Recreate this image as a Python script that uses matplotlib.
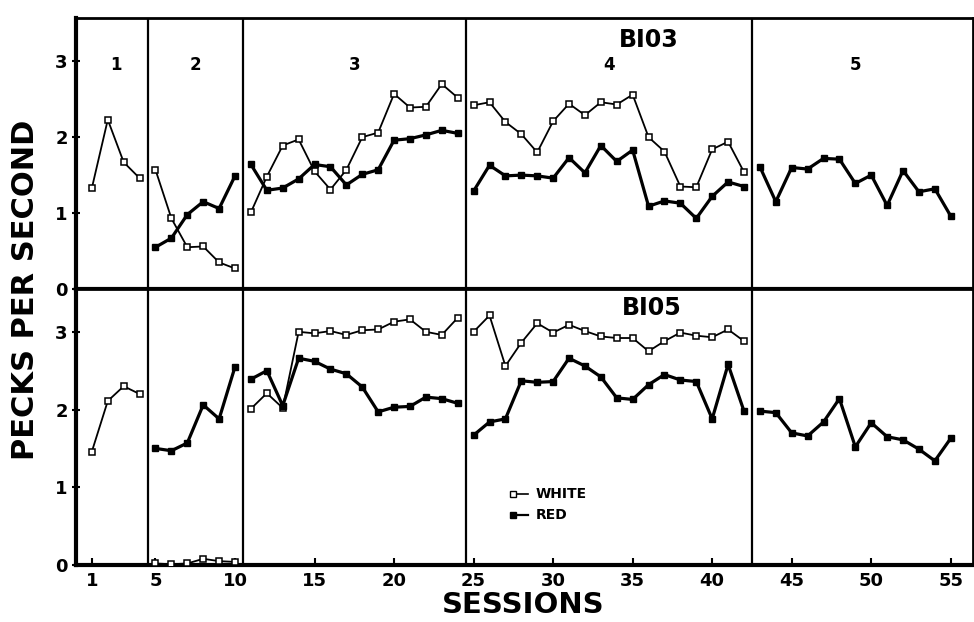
import numpy as np
import matplotlib
matplotlib.use("Agg")
import matplotlib.pyplot as plt

nan = np.nan

# sessions and phase limits
sessions = np.arange(1, 56)
phase_edges = [0.5, 4.5, 10.5, 24.5, 42.5, 55.5]
phase_names = ["1", "2", "3", "4", "5"]
xtick_vals = [1, 5, 10, 15, 20, 25, 30, 35, 40, 45, 50, 55]

# bird BI03 (top)
b103_white = ([1.33, 2.23, 1.67, 1.46]
              + [1.57, 0.93, 0.55, 0.56, 0.35, 0.27]
              + [1.01, 1.48, 1.89, 1.97, 1.55, 1.31, 1.57, 2.00, 2.06, 2.57, 2.39, 2.40, 2.70, 2.52]
              + [2.42, 2.46, 2.20, 2.04, 1.80, 2.21, 2.44, 2.29, 2.46, 2.43, 2.56, 2.00, 1.81, 1.35, 1.34, 1.84, 1.94, 1.54]
              + [nan] * 13)
b103_red = ([nan] * 4
            + [0.55, 0.67, 0.98, 1.15, 1.06, 1.49]
            + [1.64, 1.30, 1.33, 1.45, 1.64, 1.61, 1.37, 1.51, 1.57, 1.96, 1.98, 2.03, 2.09, 2.05]
            + [1.29, 1.63, 1.49, 1.50, 1.49, 1.46, 1.73, 1.53, 1.89, 1.68, 1.83, 1.09, 1.16, 1.13, 0.93, 1.22, 1.41, 1.35]
            + [1.61, 1.15, 1.60, 1.58, 1.72, 1.71, 1.39, 1.50, 1.10, 1.56, 1.28, 1.32, 0.96])

# bird BI05 (bottom)
b105_white = ([1.46, 2.11, 2.30, 2.20]
              + [0.02, 0.01, 0.02, 0.08, 0.05, 0.04]
              + [2.01, 2.21, 2.02, 3.00, 2.98, 3.01, 2.96, 3.02, 3.03, 3.13, 3.16, 3.00, 2.96, 3.18]
              + [3.00, 3.21, 2.56, 2.86, 3.11, 2.99, 3.09, 3.01, 2.94, 2.92, 2.92, 2.75, 2.88, 2.99, 2.95, 2.93, 3.03, 2.88]
              + [nan] * 13)
b105_red = ([nan] * 4
            + [1.50, 1.47, 1.57, 2.06, 1.88, 2.55]
            + [2.39, 2.50, 2.05, 2.66, 2.62, 2.52, 2.46, 2.29, 1.97, 2.03, 2.04, 2.16, 2.14, 2.08]
            + [1.67, 1.84, 1.88, 2.37, 2.35, 2.36, 2.66, 2.56, 2.42, 2.15, 2.13, 2.32, 2.45, 2.38, 2.36, 1.88, 2.58, 1.98]
            + [1.98, 1.96, 1.70, 1.66, 1.84, 2.14, 1.52, 1.83, 1.65, 1.61, 1.49, 1.34, 1.63])

plt.rcParams['font.family'] = ['DejaVu Sans']
plt.rcParams['font.weight'] = 'bold'

fig = plt.figure(figsize=(9.74, 6.22), dpi=100)
ax_top = fig.add_axes([0.078, 0.5354, 0.921, 0.4357])
ax_bot = fig.add_axes([0.078, 0.0916, 0.921, 0.4437])


def draw_phases(ax, white, red):
    white = np.array(white, dtype=float)
    red = np.array(red, dtype=float)
    for lo, hi in zip(phase_edges[:-1], phase_edges[1:]):
        m = (sessions > lo) & (sessions < hi)
        ax.plot(sessions[m], white[m], color='black', lw=1.3, marker='s', ms=5,
                mfc='white', mec='black', mew=1.1, zorder=3)
        ax.plot(sessions[m], red[m], color='black', lw=2.3, marker='s', ms=5,
                mfc='black', mec='black', zorder=4)
    for e in phase_edges[1:-1]:
        ax.axvline(e, color='black', lw=1.6, zorder=2)


draw_phases(ax_top, b103_white, b103_red)
draw_phases(ax_bot, b105_white, b105_red)

for ax, ytop in ((ax_top, 3.57), (ax_bot, 3.55)):
    ax.set_xlim(0, 56.4)
    ax.set_ylim(0, ytop)
    ax.spines['left'].set_linewidth(3)
    ax.spines['bottom'].set_linewidth(3)
    ax.spines['top'].set_linewidth(2)
    ax.spines['right'].set_linewidth(2)
    ax.set_yticks([0, 1, 2, 3])
    ax.tick_params(axis='y', direction='inout', length=6, width=1.5, pad=3,
                   labelsize=13)

ax_top.set_xticks([])
ax_bot.set_xticks(xtick_vals)
ax_bot.tick_params(axis='x', direction='in', length=5, width=1.5, pad=5,
                   labelsize=13)

# phase numbers
for lo, hi, name in zip(phase_edges[:-1], phase_edges[1:], phase_names):
    mid = (max(lo, 0) + min(hi, 56.4)) / 2
    ax_top.text(mid, 2.95, name, ha='center', va='center', fontsize=12,
                fontweight='bold')

ax_top.text(36.0, 3.28, "BI03", ha='center', va='center', fontsize=17,
            fontweight='bold')
ax_bot.text(36.2, 3.31, "BI05", ha='center', va='center', fontsize=17,
            fontweight='bold')

# legend inside the bottom panel
ax_bot.plot([27.5, 28.4], [0.91, 0.91], color='black', lw=1.2, marker='s',
            ms=5, mfc='white', mec='black', markevery=[0])
ax_bot.plot([27.5, 28.4], [0.64, 0.64], color='black', lw=1.6, marker='s',
            ms=5, mfc='black', mec='black', markevery=[0])
ax_bot.text(28.9, 0.91, "WHITE", va='center', fontsize=10, fontweight='bold')
ax_bot.text(28.9, 0.64, "RED", va='center', fontsize=10, fontweight='bold')

fig.text(0.026, 0.534, "PECKS PER SECOND", rotation=90, ha='center',
         va='center', fontsize=22, fontweight='bold')
fig.text(0.537, 0.027, "SESSIONS", ha='center', va='center', fontsize=21,
         fontweight='bold')

fig.savefig("out.png", dpi=100)
